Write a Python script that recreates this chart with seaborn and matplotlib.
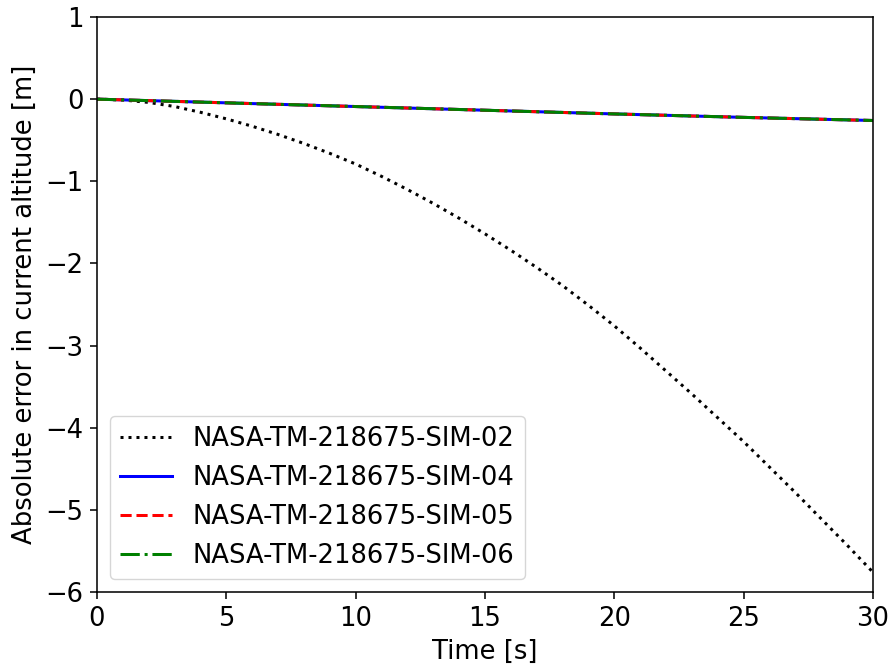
import matplotlib
matplotlib.use("Agg")
import matplotlib.pyplot as plt
import seaborn as sns

# Time samples [s]
time_sim02 = list(range(0, 31))
err_sim02 = [0.0, -0.01, -0.04, -0.09, -0.16, -0.24, -0.33, -0.43, -0.54, -0.66,
             -0.79, -0.94, -1.10, -1.27, -1.45, -1.64, -1.84, -2.05, -2.27, -2.51,
             -2.76, -3.03, -3.31, -3.59, -3.88, -4.17, -4.48, -4.79, -5.11, -5.43,
             -5.76]

time_sim = [0, 5, 10, 15, 20, 25, 30]
err_sim04 = [0.0, -0.045, -0.09, -0.135, -0.18, -0.222, -0.26]
err_sim05 = [0.0, -0.045, -0.09, -0.135, -0.18, -0.222, -0.26]
err_sim06 = [0.0, -0.045, -0.09, -0.135, -0.18, -0.222, -0.26]

labels = ["NASA-TM-218675-SIM-02", "NASA-TM-218675-SIM-04",
          "NASA-TM-218675-SIM-05", "NASA-TM-218675-SIM-06"]

S = 1.4
plt.rcParams.update({
    "font.family": ["DejaVu Sans"],
    "font.size": 18.6,
    "axes.linewidth": 0.8 * S,
    "xtick.major.width": 0.8 * S,
    "ytick.major.width": 0.8 * S,
    "xtick.major.size": 3.5 * S,
    "ytick.major.size": 3.5 * S,
    "xtick.major.pad": 3.5 * S,
    "ytick.major.pad": 3.5 * S,
    "axes.labelpad": 4 * S,
    "lines.linewidth": 1.5 * S,
    "axes.unicode_minus": True,
})

fig = plt.figure(figsize=(8.94, 6.69), dpi=100)
ax = fig.add_axes([97 / 894, 1 - 592 / 669, (873 - 97) / 894, (592 - 17) / 669])

lw = 1.55 * S
sns.lineplot(x=time_sim02, y=err_sim02, ax=ax, color="black", linestyle=":",
             linewidth=lw, label=labels[0])
sns.lineplot(x=time_sim, y=err_sim04, ax=ax, color="blue", linestyle="-",
             linewidth=lw, label=labels[1])
sns.lineplot(x=time_sim, y=err_sim05, ax=ax, color="red", linestyle="--",
             linewidth=lw, label=labels[2])
sns.lineplot(x=time_sim, y=err_sim06, ax=ax, color="green", linestyle="-.",
             linewidth=lw, label=labels[3])

ax.set_xlim(0, 30)
ax.set_ylim(-6, 1)
ax.set_xticks([0, 5, 10, 15, 20, 25, 30])
ax.set_yticks([-6, -5, -4, -3, -2, -1, 0, 1])
ax.set_xlabel("Time [s]")
ax.set_ylabel("Absolute error in current altitude [m]")
ax.legend(loc="lower left")

fig.savefig("out.png", dpi=100)
